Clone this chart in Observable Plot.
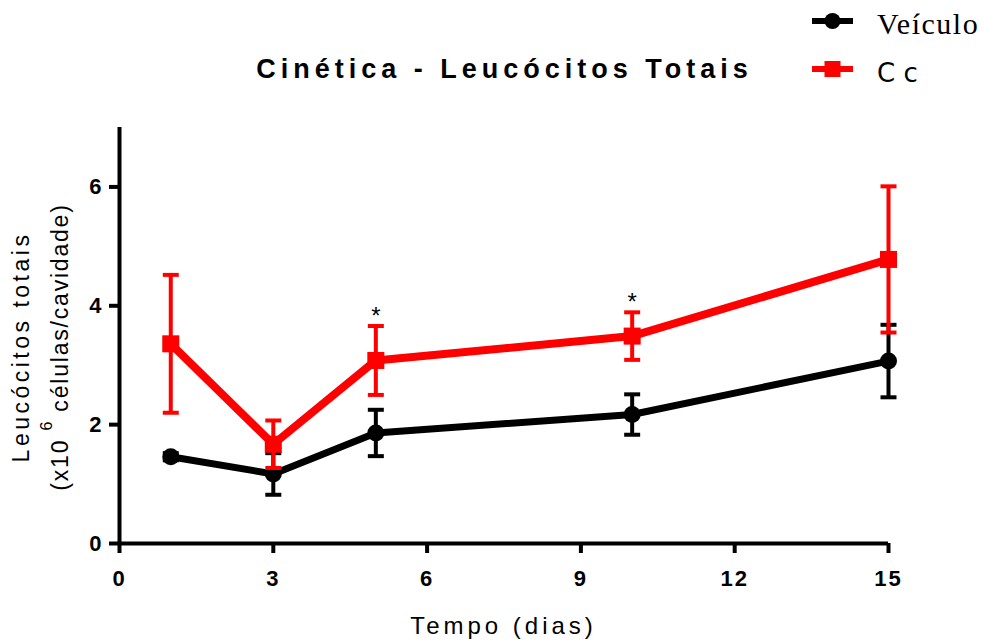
<!DOCTYPE html>
<html>
<head>
<meta charset="utf-8">
<script src="https://cdn.jsdelivr.net/npm/d3@7"></script>
<script src="https://cdn.jsdelivr.net/npm/@observablehq/plot@0.6"></script>
<style>
  body { margin: 0; background: #fff; }
  #wrap { position: relative; width: 983px; height: 642px; overflow: hidden; font-family: Arial, "Liberation Sans", sans-serif; }
  #header { position: relative; width: 983px; height: 110px; }
  #title { position: absolute; left: 0; width: 1009px; top: 56px; line-height: 27px; text-align: center; font-weight: bold; font-size: 27px; letter-spacing: 5px; color: #000; white-space: nowrap; }
  #legend { position: absolute; left: 810px; top: 0px; }
</style>
</head>
<body>
<div id="wrap">
  <div id="header">
    <div id="title">Cinética - Leucócitos Totais</div>
    <div id="legend"></div>
  </div>
  <div id="chart"></div>
</div>
<script>
// ---- data ----
const days = [1, 3, 5, 10, 15];
const veiculoMean = [1.46, 1.17, 1.86, 2.17, 3.07];
const veiculoErr  = [0.06, 0.35, 0.39, 0.34, 0.61];
const ccMean = [3.36, 1.67, 3.08, 3.49, 4.78];
const ccErr  = [1.16, 0.40, 0.58, 0.40, 1.23];
const seriesNames = ["Veículo", "Cc"];
const seriesColors = ["#000000", "#ff0000"];
const significantDays = [5, 10];
const xTicks = [0, 3, 6, 9, 12, 15];
const yTicks = [0, 2, 4, 6];

const veiculo = days.map((d, i) => ({day: d, mean: veiculoMean[i], err: veiculoErr[i]}));
const cc = days.map((d, i) => ({day: d, mean: ccMean[i], err: ccErr[i]}));
const sig = cc.filter(d => significantDays.includes(d.day));

const capSymbol = {
  draw(ctx, size) {
    const w = Math.sqrt(size / Math.PI);
    ctx.moveTo(-w, 0);
    ctx.lineTo(w, 0);
  }
};

function errMarks(rows, color) {
  const caps = rows.flatMap(d => [{day: d.day, y: d.mean + d.err}, {day: d.day, y: d.mean - d.err}]);
  return [
    Plot.ruleX(rows, {x: "day", y1: d => d.mean - d.err, y2: d => d.mean + d.err, stroke: color, strokeWidth: 4}),
    Plot.dot(caps, {x: "day", y: "y", symbol: capSymbol, r: 8, fill: "none", stroke: color, strokeWidth: 4})
  ];
}

const plot = Plot.plot({
  width: 983,
  height: 532,
  marginLeft: 119,
  marginRight: 95,
  marginTop: 17,
  marginBottom: 99,
  style: {fontFamily: "Arial, 'Liberation Sans', sans-serif", color: "#000", background: "#fff"},
  x: {domain: [0, 15]},
  y: {domain: [0, 7]},
  marks: [
    Plot.axisX({ticks: xTicks, tickSize: 10, strokeWidth: 4, tickPadding: 17, fontSize: 22, fontWeight: "bold", label: null, tickFormat: d => String(d)}),
    Plot.axisY({ticks: yTicks, tickSize: 10, strokeWidth: 4, tickPadding: 8, fontSize: 22, fontWeight: "bold", label: null, tickFormat: d => String(d)}),
    Plot.ruleY([0], {strokeWidth: 4}),
    Plot.ruleX([0], {strokeWidth: 4}),
    Plot.line(veiculo, {x: "day", y: "mean", stroke: seriesColors[0], strokeWidth: 7}),
    ...errMarks(veiculo, seriesColors[0]),
    Plot.dot(veiculo, {x: "day", y: "mean", r: 8.5, fill: seriesColors[0], symbol: "circle"}),
    Plot.line(cc, {x: "day", y: "mean", stroke: seriesColors[1], strokeWidth: 8}),
    ...errMarks(cc, seriesColors[1]),
    Plot.dot(cc, {x: "day", y: "mean", r: 9.6, fill: seriesColors[1], symbol: "square"}),
    Plot.text(sig, {x: "day", y: d => d.mean + d.err, text: () => "*", dy: -10, fontSize: 24, fill: "#000"})
  ]
});
document.getElementById("chart").appendChild(plot);

const svg = d3.select(plot);
svg.selectAll('g[aria-label="x-axis tick label"], g[aria-label="y-axis tick label"]')
  .attr("font-size", 22).attr("font-weight", "bold");
svg.selectAll('g[aria-label="x-axis tick label"]').attr("letter-spacing", "2px");

// axis titles
svg.append("text")
  .attr("transform", "translate(23,237) rotate(-90)")
  .attr("text-anchor", "middle")
  .attr("dominant-baseline", "middle")
  .attr("font-size", 23)
  .attr("letter-spacing", "3.5px")
  .attr("fill", "#000")
  .text("Leucócitos totais");
const l2 = svg.append("text")
  .attr("transform", "translate(62,237) rotate(-90)")
  .attr("text-anchor", "middle")
  .attr("dominant-baseline", "middle")
  .attr("font-size", 23)
  .attr("letter-spacing", "1.8px")
  .attr("fill", "#000");
l2.append("tspan").text("(x10 ");
l2.append("tspan").attr("font-size", 16).attr("dy", -14).text("6");
l2.append("tspan").attr("dy", 14).text(" células/cavidade)");

svg.append("text")
  .attr("x", 503.5)
  .attr("y", 524)
  .attr("text-anchor", "middle")
  .attr("font-size", 24)
  .attr("letter-spacing", "4px")
  .attr("fill", "#000")
  .text("Tempo (dias)");

// legend
const leg = d3.select("#legend").append("svg").attr("width", 173).attr("height", 100);
seriesNames.forEach((name, i) => {
  const y = i === 0 ? 21 : 69;
  const g = leg.append("g");
  g.append("line").attr("x1", 2).attr("x2", 43).attr("y1", y).attr("y2", y)
    .attr("stroke", seriesColors[i]).attr("stroke-width", 6);
  if (i === 0) g.append("circle").attr("cx", 22.5).attr("cy", y).attr("r", 8).attr("fill", seriesColors[i]);
  else g.append("rect").attr("x", 14.5).attr("y", y - 8).attr("width", 16).attr("height", 16).attr("fill", seriesColors[i]);
  g.append("text").attr("x", 67).attr("y", y + 13)
    .attr("font-family", i === 0 ? "'Liberation Serif', serif" : "'DejaVu Sans', sans-serif")
    .attr("font-size", i === 0 ? 30 : 26)
    .attr("letter-spacing", i === 0 ? "1.5px" : "0px")
    .attr("fill", "#000")
    .text(name === "Cc" ? "C c" : name);
});
</script>
</body>
</html>
